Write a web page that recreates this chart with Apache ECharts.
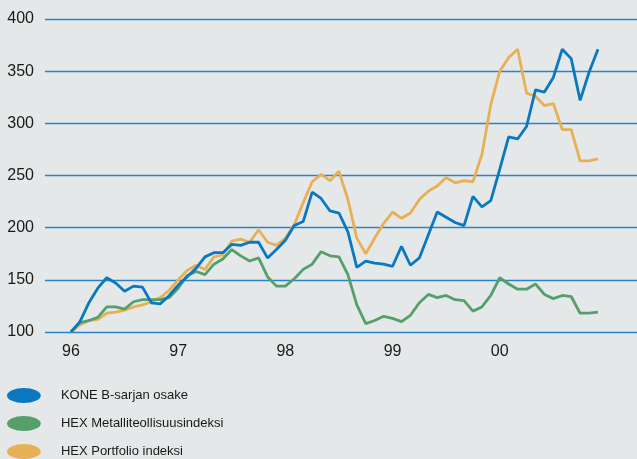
<!DOCTYPE html>
<html>
<head>
<meta charset="utf-8">
<script src="https://cdn.jsdelivr.net/npm/echarts@6/dist/echarts.min.js"></script>
<style>
  html, body { margin: 0; padding: 0; background: #e4e8e9; }
  #main { width: 637px; height: 459px; }
</style>
</head>
<body>
<div id="main"></div>
<script>
var years = ['96', '97', '98', '99', '00'];
var yTicks = [100, 150, 200, 250, 300, 350, 400];

var kone = [100, 110, 128, 142, 152, 147, 139, 144, 143, 128,
            127, 135, 145, 153, 161, 172, 176, 176, 184, 183,
            186, 186, 171, 179, 188, 202, 206, 234, 228, 216,
            214, 196, 162, 168, 166, 165, 163, 182, 164, 171,
            193, 215, 210, 205, 202, 230, 220, 226, 256, 287,
            285, 297, 332, 330, 344, 371, 362, 322, 349, 371];

var metalli = [100, 109, 111, 114, 124, 124, 122, 129, 131, 131,
               131, 133, 142, 154, 158, 155, 165, 170, 179, 173,
               168, 171, 153, 144, 144, 151, 160, 165, 177, 173,
               172, 155, 126, 108, 111, 115, 113, 110, 116, 128,
               136, 133, 135, 131, 130, 120, 124, 135, 152, 146,
               141, 141, 146, 136, 132, 135, 134, 118, 118, 119];

var portfolio = [100, 107, 111, 112, 118, 119, 121, 124, 126, 129,
                 133, 140, 150, 159, 164, 160, 172, 174, 187, 189,
                 186, 198, 186, 183, 190, 203, 224, 244, 251, 245,
                 254, 227, 190, 175, 190, 204, 215, 209, 214, 227,
                 235, 240, 248, 243, 245, 244, 270, 318, 350, 363,
                 371, 329, 326, 317, 319, 294, 294, 264, 264, 266];

var names = ['KONE B-sarjan osake', 'HEX Metalliteollisuusindeksi', 'HEX Portfolio indeksi'];
var colors = ['#0a78c0', '#55a06a', '#e8b055'];

// kuukaudet: vuosi/kk
var months = [];
years.forEach(function (y) {
  for (var m = 1; m <= 12; m++) months.push(y + '/' + m);
});

init();

function init() {
  var chart = echarts.init(document.getElementById('main'));
  var ellipse = 'path://M0,8 A18,8 0 1,1 36,8 A18,8 0 1,1 0,8 Z';

  var series = [kone, metalli, portfolio].map(function (d, i) {
    return {
      name: names[i],
      type: 'line',
      xAxisIndex: 1,
      yAxisIndex: 1,
      symbol: 'none',
      color: colors[i],
      lineStyle: { width: 2.8, color: colors[i] },
      z: 5 - i,
      data: d
    };
  });

  chart.setOption({
    animation: false,
    backgroundColor: '#e4e8e9',
    textStyle: { fontFamily: 'Liberation Sans' },
    legend: {
      orient: 'vertical',
      left: 7,
      top: 388,
      height: 80,
      padding: 0,
      itemWidth: 38,
      itemHeight: 15,
      itemGap: 13,
      icon: ellipse,
      textStyle: { fontSize: 13, color: '#1a1a1a', padding: [0, 0, 0, 13] },
      data: names
    },
    grid: [
      { left: 45, right: 0, top: 19, bottom: 127 },
      { left: 71, right: 39, top: 19, bottom: 127 }
    ],
    xAxis: [
      { gridIndex: 0, type: 'value', show: false, min: 0, max: 1 },
      {
        gridIndex: 1,
        type: 'category',
        data: months,
        boundaryGap: false,
        axisLine: { show: false },
        axisTick: { show: false },
        axisLabel: {
          interval: function (i) { return i % 12 === 0; },
          formatter: function (v) { return v.split('/')[0]; },
          color: '#1a1a1a',
          fontSize: 16,
          margin: 12
        }
      }
    ],
    yAxis: [
      {
        gridIndex: 0,
        type: 'value',
        min: yTicks[0],
        max: yTicks[yTicks.length - 1],
        interval: 50,
        axisLine: { show: false },
        axisTick: { show: false },
        axisLabel: { color: '#1a1a1a', fontSize: 16, margin: 11 },
        splitLine: { lineStyle: { color: '#2a83c5', width: 1.4 } }
      },
      {
        gridIndex: 1,
        type: 'value',
        min: yTicks[0],
        max: yTicks[yTicks.length - 1],
        show: false,
        splitLine: { show: false }
      }
    ],
    series: series
  });
}
</script>
</body>
</html>
